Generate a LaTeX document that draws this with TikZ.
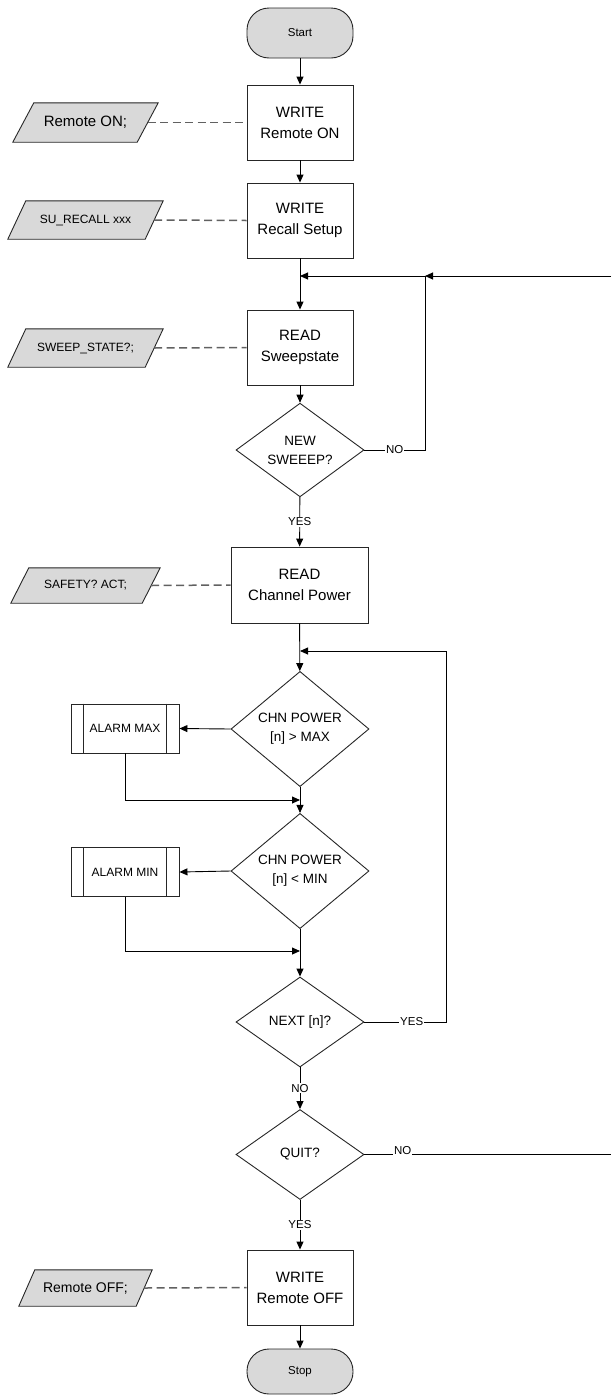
\documentclass[tikz,border=0pt]{standalone}
\usepackage{fontspec}
\setmainfont{Liberation Sans}
\usetikzlibrary{shapes.geometric,arrows.meta,calc,backgrounds}
\begin{document}
\begin{tikzpicture}[x=1pt,y=-1pt,
 base/.style={draw=black!85, line width=0.9pt, align=center, inner sep=0pt},
 termbox/.style={base, fill=black!15, rounded corners=22pt, minimum width=106pt, minimum height=50pt, font=\fontsize{11.5}{13}\selectfont},
 procbox/.style={base, minimum width=106pt, minimum height=75pt, font=\fontsize{15}{21}\selectfont},
 iobox/.style={align=center, inner sep=0pt, minimum height=38pt},
 ioshape/.style={draw=black!85, fill=black!15, line width=0.9pt},
 decbox/.style={base, diamond, font=\fontsize{13.5}{19}\selectfont},
 subproc/.style={base, minimum width=108pt, minimum height=49pt, font=\fontsize{12}{14}\selectfont},
 arr/.style={line width=0.9pt, -{Triangle[length=8pt,width=7pt]}},
 ln/.style={line width=0.9pt},
 dsh/.style={draw=black!62, line width=1.5pt, dash pattern=on 8pt off 4.5pt},
 lbl/.style={fill=white, inner sep=1pt, font=\fontsize{11.5}{13}\selectfont},
]
\useasboundingbox (0,0) rectangle (611,1395);
% main column
\node[termbox] (start) at (300,33) {Start};
\node[procbox] (w1) at (300,122.5) {WRITE\\Remote ON};
\node[procbox] (w2) at (300,220.5) {WRITE\\Recall Setup};
\node[procbox] (rs) at (300,347.5) {READ\\Sweepstate};
\node[decbox, minimum width=128pt, minimum height=90pt] (ns) at (300,450) {NEW\\SWEEEP?};
\node[procbox, minimum width=137pt, minimum height=76pt] (rc) at (299.5,585) {READ\\Channel Power};
\node[decbox, minimum width=138pt, minimum height=96pt] (c1) at (300,729) {CHN POWER\\{[n]} > MAX};
\node[decbox, minimum width=138pt, minimum height=98pt] (c2) at (300,871) {CHN POWER\\{[n]} < MIN};
\node[decbox, minimum width=128pt, minimum height=90pt] (nx) at (300,1022) {NEXT [n]?};
\node[decbox, minimum width=128pt, minimum height=90pt] (qu) at (300,1154.5) {QUIT?};
\node[procbox] (wo) at (300,1287.5) {WRITE\\Remote OFF};
\node[termbox, minimum height=45pt] (stop) at (300,1371.5) {Stop};
% sub processes
\node[subproc] (am) at (125,728.5) {ALARM MAX};
\node[subproc] (an) at (125,872) {ALARM MIN};
\foreach \n in {am,an}{
  \draw[line width=0.9pt, black!85] ([xshift=13pt]\n.north west) -- ([xshift=13pt]\n.south west);
  \draw[line width=0.9pt, black!85] ([xshift=-13pt]\n.north east) -- ([xshift=-13pt]\n.south east);
}
% data (parallelograms)
\node[iobox, minimum width=145pt, minimum height=39pt, font=\fontsize{15}{17}\selectfont] (p1) at (85.5,122.5) {Remote ON;};
\node[iobox, minimum width=155pt, font=\fontsize{12}{14}\selectfont] (p2) at (85.5,220) {SU\_RECALL xxx};
\node[iobox, minimum width=155pt, font=\fontsize{12}{14}\selectfont] (p3) at (85.5,348) {SWEEP\_STATE?;};
\node[iobox, minimum width=149pt, minimum height=35pt, font=\fontsize{12}{14}\selectfont] (p4) at (85.5,585.5) {SAFETY? ACT;};
\node[iobox, minimum width=133pt, minimum height=36pt, font=\fontsize{14}{16}\selectfont] (p5) at (85.5,1288) {Remote OFF;};
\begin{scope}[on background layer]
\foreach \p/\o in {p1/21,p2/18,p3/18,p4/18,p5/16}{
  \draw[ioshape] ([xshift=\o pt]\p.north west) -- (\p.north east) -- ([xshift=-\o pt]\p.south east) -- (\p.south west) -- cycle;
}
\end{scope}
% coordinates
\coordinate (inA) at (611,276);
\coordinate (jr) at (425,276);
\coordinate (jl) at (300,276);
\coordinate (j2) at (300,651);
\coordinate (rx) at (446,651);
\coordinate (m1) at (300,800);
\coordinate (m2) at (300,951);
\coordinate (outQ) at (611,1154.5);
% connectors
\draw[arr] (start) -- (w1);
\draw[arr] (w1) -- (w2);
\draw[arr] (w2) -- (rs);
\draw[arr] (inA) -- (jr);
\draw[arr] (jr) -- (jl);
\draw[arr] (rs) -- (ns);
\draw[ln] (ns.east) -- node[lbl]{NO} (ns.east -| jr) -- (jr);
\draw[arr] (ns) -- node[lbl]{YES} (rc);
\draw[arr] (rc) -- (c1);
\draw[arr] (nx.east) -- node[lbl,pos=0.58]{YES} (nx.east -| rx) -- (rx) -- (j2);
\draw[arr] (c1.west) -- (am.east);
\draw[arr] (am.south) |- (m1);
\draw[arr] (c1) -- (c2);
\draw[arr] (c2.west) -- (an.east);
\draw[arr] (an.south) |- (m2);
\draw[arr] (c2) -- (nx);
\draw[arr] (nx) -- node[lbl]{NO} (qu);
\draw[ln] (qu.east) -- node[lbl, pos=0.155, yshift=4pt]{NO} (outQ);
\draw[arr] (qu) -- node[lbl]{YES} (wo);
\draw[arr] (wo) -- (stop);
% dashed links
\draw[dsh] ([xshift=-10.5pt]p1.east) -- (w1.west);
\draw[dsh] ([xshift=-9pt]p2.east) -- (w2.west);
\draw[dsh] ([xshift=-9pt]p3.east) -- (rs.west);
\draw[dsh] ([xshift=-9pt]p4.east) -- (rc.west);
\draw[dsh] ([xshift=-8pt]p5.east) -- (wo.west);
\end{tikzpicture}
\end{document}
